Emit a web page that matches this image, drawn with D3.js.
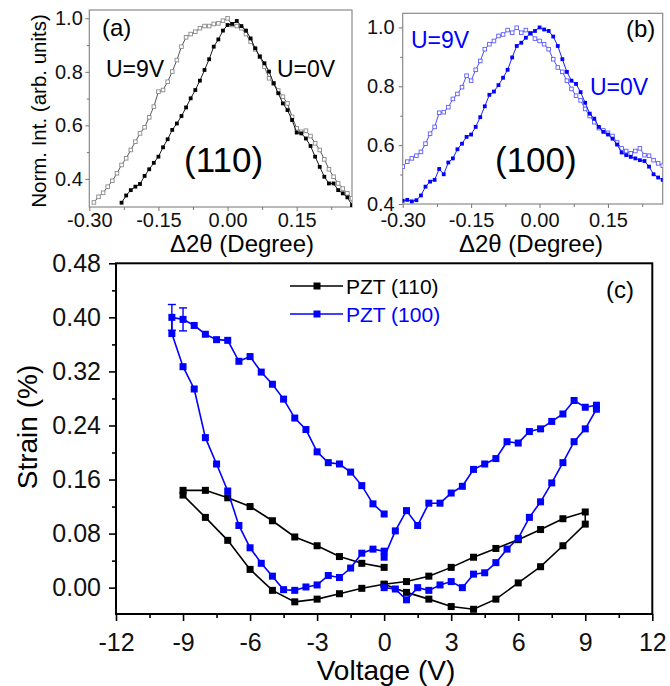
<!DOCTYPE html>
<html>
<head>
<meta charset="utf-8">
<script src="https://cdn.jsdelivr.net/npm/d3@7"></script>
<style>
    body { margin: 0; background: #fff; }
    svg { font-family: "Liberation Sans", Arial, sans-serif; }
</style>
</head>
<body>
<div id="chart"></div>
<script>
// ---- panel (a): (110) peak, [delta 2theta, normalized intensity]
const peak110_0V = [
    [-0.23, 0.311], [-0.22, 0.338], [-0.21, 0.358], [-0.20, 0.371], [-0.19, 0.381], [-0.18, 0.411],
    [-0.17, 0.436], [-0.16, 0.460], [-0.15, 0.483], [-0.14, 0.518], [-0.13, 0.548], [-0.12, 0.583],
    [-0.11, 0.607], [-0.10, 0.635], [-0.09, 0.667], [-0.08, 0.701], [-0.07, 0.732], [-0.06, 0.767],
    [-0.05, 0.807], [-0.04, 0.847], [-0.03, 0.894], [-0.02, 0.921], [-0.01, 0.954], [0.00, 0.975],
    [0.01, 0.979], [0.02, 0.990], [0.03, 0.971], [0.04, 0.954], [0.05, 0.925], [0.06, 0.888],
    [0.07, 0.857], [0.08, 0.832], [0.09, 0.801], [0.10, 0.757], [0.11, 0.720], [0.12, 0.682],
    [0.13, 0.657], [0.14, 0.620], [0.15, 0.573], [0.16, 0.570], [0.17, 0.551], [0.18, 0.523],
    [0.19, 0.483], [0.20, 0.445], [0.21, 0.408], [0.22, 0.383], [0.23, 0.383], [0.24, 0.358],
    [0.25, 0.346], [0.26, 0.331], [0.27, 0.302]
]
const peak110_9V = [
    [-0.29, 0.312], [-0.28, 0.333], [-0.27, 0.348], [-0.26, 0.371], [-0.25, 0.393], [-0.24, 0.421],
    [-0.23, 0.452], [-0.22, 0.477], [-0.21, 0.508], [-0.20, 0.539], [-0.19, 0.570], [-0.18, 0.593],
    [-0.17, 0.630], [-0.16, 0.670], [-0.15, 0.726], [-0.14, 0.732], [-0.13, 0.763], [-0.12, 0.801],
    [-0.11, 0.844], [-0.10, 0.894], [-0.09, 0.929], [-0.08, 0.941], [-0.07, 0.950], [-0.06, 0.963],
    [-0.05, 0.971], [-0.04, 0.971], [-0.03, 0.979], [-0.02, 0.981], [-0.01, 0.991], [0.00, 1.000],
    [0.01, 0.975], [0.02, 0.971], [0.03, 0.963], [0.04, 0.941], [0.05, 0.913], [0.06, 0.884],
    [0.07, 0.857], [0.08, 0.819], [0.09, 0.776], [0.10, 0.757], [0.11, 0.730], [0.12, 0.707],
    [0.13, 0.682], [0.14, 0.632], [0.15, 0.589], [0.16, 0.576], [0.17, 0.580], [0.18, 0.560],
    [0.19, 0.533], [0.20, 0.508], [0.21, 0.473], [0.22, 0.436], [0.23, 0.408], [0.24, 0.383],
    [0.25, 0.364], [0.26, 0.346], [0.27, 0.327]
]

// ---- panel (b): (100) peak
const peak100_0V = [
    [-0.30, 0.411], [-0.29, 0.414], [-0.28, 0.409], [-0.27, 0.413], [-0.26, 0.429], [-0.25, 0.459],
    [-0.24, 0.476], [-0.23, 0.482], [-0.22, 0.519], [-0.21, 0.501], [-0.20, 0.541], [-0.19, 0.555],
    [-0.18, 0.586], [-0.17, 0.605], [-0.16, 0.628], [-0.15, 0.636], [-0.14, 0.662], [-0.13, 0.695],
    [-0.12, 0.732], [-0.11, 0.771], [-0.10, 0.782], [-0.09, 0.804], [-0.08, 0.829], [-0.07, 0.856],
    [-0.06, 0.898], [-0.05, 0.937], [-0.04, 0.948], [-0.03, 0.965], [-0.02, 0.980], [-0.01, 0.988],
    [0.00, 1.000], [0.01, 0.993], [0.02, 0.988], [0.03, 0.969], [0.04, 0.937], [0.05, 0.892],
    [0.06, 0.849], [0.07, 0.819], [0.08, 0.808], [0.09, 0.780], [0.10, 0.744], [0.11, 0.707],
    [0.12, 0.690], [0.13, 0.662], [0.14, 0.645], [0.15, 0.636], [0.16, 0.622], [0.17, 0.602],
    [0.18, 0.575], [0.19, 0.566], [0.20, 0.560], [0.21, 0.555], [0.22, 0.549], [0.23, 0.546],
    [0.24, 0.527], [0.25, 0.501], [0.26, 0.490], [0.27, 0.482]
]
const peak100_9V = [
    [-0.30, 0.527], [-0.29, 0.544], [-0.28, 0.555], [-0.27, 0.564], [-0.26, 0.577], [-0.25, 0.605],
    [-0.24, 0.639], [-0.23, 0.662], [-0.22, 0.710], [-0.21, 0.712], [-0.20, 0.729], [-0.19, 0.757],
    [-0.18, 0.774], [-0.17, 0.797], [-0.16, 0.836], [-0.15, 0.819], [-0.14, 0.856], [-0.13, 0.886],
    [-0.12, 0.926], [-0.11, 0.943], [-0.10, 0.954], [-0.09, 0.971], [-0.08, 0.976], [-0.07, 0.991],
    [-0.06, 0.982], [-0.05, 0.999], [-0.04, 0.982], [-0.03, 0.991], [-0.02, 0.980], [-0.01, 0.962],
    [0.00, 0.954], [0.01, 0.943], [0.02, 0.926], [0.03, 0.892], [0.04, 0.864], [0.05, 0.849],
    [0.06, 0.819], [0.07, 0.791], [0.08, 0.768], [0.09, 0.752], [0.10, 0.723], [0.11, 0.699],
    [0.12, 0.678], [0.13, 0.658], [0.14, 0.650], [0.15, 0.642], [0.16, 0.631], [0.17, 0.609],
    [0.18, 0.589], [0.19, 0.580], [0.20, 0.572], [0.21, 0.580], [0.22, 0.589], [0.23, 0.566],
    [0.24, 0.564], [0.25, 0.549], [0.26, 0.538], [0.27, 0.530]
]

const peakXTicks = [-0.30, -0.15, 0.00, 0.15]
const peakXLabels = ["-0.30", "-0.15", "0.00", "0.15"]
const peakXMinor = [-0.225, -0.075, 0.075, 0.225]
const peakYTicks = [0.4, 0.6, 0.8, 1.0]
const peakYLabels = ["0.4", "0.6", "0.8", "1.0"]
const peakYMinor = [0.5, 0.7, 0.9]

// ---- panel (c): strain loops, in measuring order
const voltage110 = [0, -1, -2, -3, -4, -5, -6, -7, -8, -9, -9, -8, -7, -6, -5, -4, -3, -2, -1, 0,
    1, 2, 3, 4, 5, 6, 7, 8, 9, 9, 8, 7, 6, 5, 4, 3, 2, 1, 0]
const strain110 = [0.030, 0.036, 0.046, 0.062, 0.075, 0.099, 0.120, 0.133, 0.144, 0.144,
    0.137, 0.104, 0.070, 0.027, -0.004, -0.021, -0.017, -0.009, -0.001, 0.005,
    0.009, 0.017, 0.030, 0.045, 0.058, 0.071, 0.086, 0.102, 0.112,
    0.094, 0.062, 0.031, 0.007, -0.017, -0.032, -0.028, -0.017, -0.007, 0.005]

const voltage100 = [0, 0.5, 1, 1.5, 2, 2.5, 3, 3.5, 4, 4.5, 5, 5.5, 6, 6.5, 7, 7.5, 8, 8.5, 9, 9.5,
    9.5, 9, 8.5, 8, 7.5, 7, 6.5, 6, 5.5, 5, 4.5, 4, 3.5, 3, 2.5, 2, 1.5, 1, 0.5, 0,
    0, -0.5, -1, -1.5, -2, -2.5, -3, -3.5, -4, -4.5, -5, -5.5, -6, -6.5, -7, -7.5, -8, -8.5, -9, -9.5,
    -9.5, -9, -8.5, -8, -7.5, -7, -6.5, -6, -5.5, -5, -4.5, -4, -3.5, -3, -2.5, -2, -1.5, -1, -0.5, 0]
const strain100 = [0.000, -0.002, -0.018, 0.000, -0.004, 0.004, 0.009, 0.000, 0.020, 0.022,
    0.037, 0.057, 0.073, 0.104, 0.127, 0.155, 0.185, 0.216, 0.235, 0.264,
    0.270, 0.267, 0.277, 0.257, 0.246, 0.235, 0.231, 0.214, 0.216, 0.191,
    0.183, 0.175, 0.150, 0.140, 0.125, 0.125, 0.092, 0.114, 0.084, 0.045,
    0.054, 0.057, 0.051, 0.029, 0.015, 0.018, 0.004, 0.001, -0.004, -0.003,
    0.017, 0.036, 0.059, 0.092, 0.143, 0.183, 0.222, 0.294, 0.327, 0.376,
    0.400, 0.397, 0.388, 0.375, 0.367, 0.366, 0.335, 0.342, 0.319, 0.301,
    0.279, 0.251, 0.234, 0.201, 0.185, 0.183, 0.171, 0.151, 0.124, 0.109]

// error bars on the first points of the (100) loop
const errVoltage = [-9.5, -9]
const errStrain = [0.400, 0.397]
const errSize = [0.019, 0.017]

const voltTicks = [-12, -9, -6, -3, 0, 3, 6, 9, 12]
const voltLabels = ["-12", "-9", "-6", "-3", "0", "3", "6", "9", "12"]
const voltMinor = [-10.5, -7.5, -4.5, -1.5, 1.5, 4.5, 7.5, 10.5]
const strainTicks = [0.00, 0.08, 0.16, 0.24, 0.32, 0.40, 0.48]
const strainLabels = ["0.00", "0.08", "0.16", "0.24", "0.32", "0.40", "0.48"]
const strainMinor = [0.04, 0.12, 0.20, 0.28, 0.36, 0.44]

const legendLabels = ["PZT (110)", "PZT (100)"]
const BLUE = "#0000ff"

const width = 670, height = 686
const svg = d3.select("#chart")
    .append("svg")
    .attr("width", width)
    .attr("height", height)

// small XRD peak panels (a) and (b)
let drawPeakPanel = function(p) {
    const x = d3.scaleLinear().domain([-0.30, 0.27]).range([p.left, p.right])
    const y = d3.scaleLinear().domain(p.yDomain).range([p.bottom, p.top])
    const g = svg.append("g")

    g.append("rect")
        .attr("x", p.left).attr("y", p.top)
        .attr("width", p.right - p.left).attr("height", p.bottom - p.top)
        .attr("fill", "none").attr("stroke", "#8a8a8a").attr("stroke-width", 1.2)

    const xAxis = d3.axisBottom(x).tickValues(peakXTicks)
        .tickFormat((d, i) => peakXLabels[i]).tickSize(4).tickPadding(p.xPad)
    const xMinor = d3.axisBottom(x).tickValues(peakXMinor).tickFormat("").tickSize(3)
    const yAxis = d3.axisLeft(y).tickValues(peakYTicks)
        .tickFormat((d, i) => peakYLabels[i]).tickSize(4).tickPadding(p.yPad)
    const yMinor = d3.axisLeft(y).tickValues(peakYMinor).tickFormat("").tickSize(2.5)

    g.append("g").attr("transform", `translate(0,${p.bottom})`).call(xAxis)
    g.append("g").attr("transform", `translate(0,${p.bottom})`).call(xMinor)
    g.append("g").attr("transform", `translate(${p.left},0)`).call(yAxis)
    g.append("g").attr("transform", `translate(${p.left},0)`).call(yMinor)
    g.selectAll(".domain").remove()
    g.selectAll(".tick line").attr("stroke", "#777")
    g.selectAll(".tick text").attr("font-size", 20).attr("fill", "#111")
        .attr("font-family", "Liberation Sans, Arial, sans-serif")

    const clipId = "clip-" + p.name
    g.append("clipPath").attr("id", clipId)
        .append("rect")
        .attr("x", p.left).attr("y", p.top)
        .attr("width", p.right - p.left).attr("height", p.bottom - p.top)
    const plot = g.append("g").attr("clip-path", `url(#${clipId})`)

    const line = d3.line()
        .x(d => x(d[0]))
        .y(d => y(d[1]))

    // U=9V, open squares
    plot.append("path").datum(p.open)
        .attr("d", line).attr("fill", "none")
        .attr("stroke", p.openLine).attr("stroke-width", 0.9)
    plot.selectAll(".open")
        .data(p.open)
        .enter().append("rect")
        .attr("x", d => x(d[0]) - 1.8)
        .attr("y", d => y(d[1]) - 1.8)
        .attr("width", 3.6).attr("height", 3.6)
        .attr("fill", "#fff").attr("stroke", p.openColor).attr("stroke-width", 0.9)

    // U=0V, filled squares
    plot.append("path").datum(p.filled)
        .attr("d", line).attr("fill", "none")
        .attr("stroke", p.color).attr("stroke-width", 0.9)
    plot.selectAll(".filled")
        .data(p.filled)
        .enter().append("rect")
        .attr("x", d => x(d[0]) - 1.9)
        .attr("y", d => y(d[1]) - 1.9)
        .attr("width", 3.8).attr("height", 3.8)
        .attr("fill", p.color)

    g.append("text")
        .attr("x", p.titleX).attr("y", 252)
        .attr("text-anchor", "middle")
        .attr("font-size", 24)
        .text("\u03942\u03b8 (Degree)")

    return g
}

const gA = drawPeakPanel({
    name: "a", left: 89.3, right: 352, top: 10, bottom: 207,
    yDomain: [0.295, 1.031], xPad: 2, yPad: 2.5,
    filled: peak110_0V, open: peak110_9V,
    color: "#000", openColor: "#8a8a8a", openLine: "#444",
    titleX: 242
})
gA.append("text").attr("x", 102).attr("y", 36).attr("font-size", 24).text("(a)")
gA.append("text").attr("x", 106).attr("y", 77).attr("font-size", 23).text("U=9V")
gA.append("text").attr("x", 277).attr("y", 77).attr("font-size", 23).text("U=0V")
gA.append("text").attr("x", 184).attr("y", 172).attr("font-size", 35).text("(110)")

svg.append("text")
    .attr("transform", "translate(45.5,111) rotate(-90)")
    .attr("text-anchor", "middle")
    .attr("font-size", 20.5)
    .text("Norm. Int. (arb. units)")

const gB = drawPeakPanel({
    name: "b", left: 402.7, right: 662.7, top: 13.3, bottom: 204,
    yDomain: [0.4, 1.048], xPad: 4.5, yPad: 4,
    filled: peak100_0V, open: peak100_9V,
    color: BLUE, openColor: "#5c5cff", openLine: "#3a3aff",
    titleX: 531
})
gB.append("text").attr("x", 626).attr("y", 37).attr("font-size", 24).text("(b)")
gB.append("text").attr("x", 411).attr("y", 48).attr("font-size", 23).attr("fill", BLUE).text("U=9V")
gB.append("text").attr("x", 590).attr("y", 95).attr("font-size", 23).attr("fill", BLUE).text("U=0V")
gB.append("text").attr("x", 495).attr("y", 172).attr("font-size", 35).text("(100)")

// ---- panel (c)
const cMargin = { top: 263.3, right: 652.3, bottom: 614, left: 116 }
const xV = d3.scaleLinear().domain([-12, 12]).range([cMargin.left, cMargin.right])
const yS = d3.scaleLinear().domain([-0.039, 0.48]).range([cMargin.bottom, cMargin.top])
const gC = svg.append("g")

gC.append("rect")
    .attr("x", cMargin.left).attr("y", cMargin.top)
    .attr("width", cMargin.right - cMargin.left)
    .attr("height", cMargin.bottom - cMargin.top)
    .attr("fill", "none").attr("stroke", "#000").attr("stroke-width", 2)

const vAxis = d3.axisBottom(xV).tickValues(voltTicks)
    .tickFormat((d, i) => voltLabels[i]).tickSize(7).tickPadding(12)
const vMinor = d3.axisBottom(xV).tickValues(voltMinor).tickFormat("").tickSize(4)
const sAxis = d3.axisLeft(yS).tickValues(strainTicks)
    .tickFormat((d, i) => strainLabels[i]).tickSize(7).tickPadding(8)
const sMinor = d3.axisLeft(yS).tickValues(strainMinor).tickFormat("").tickSize(4)

gC.append("g").attr("transform", `translate(0,${cMargin.bottom})`).call(vAxis)
gC.append("g").attr("transform", `translate(0,${cMargin.bottom})`).call(vMinor)
gC.append("g").attr("transform", `translate(${cMargin.left},0)`).call(sAxis)
gC.append("g").attr("transform", `translate(${cMargin.left},0)`).call(sMinor)
gC.selectAll(".domain").remove()
gC.selectAll(".tick line").attr("stroke", "#000").attr("stroke-width", 1.6)
gC.selectAll(".tick text").attr("font-size", 25).attr("fill", "#111")
    .attr("font-family", "Liberation Sans, Arial, sans-serif")

gC.append("text")
    .attr("x", 386).attr("y", 680)
    .attr("text-anchor", "middle")
    .attr("font-size", 28)
    .text("Voltage (V)")
gC.append("text")
    .attr("transform", "translate(37,427) rotate(-90)")
    .attr("text-anchor", "middle")
    .attr("font-size", 28)
    .text("Strain (%)")
gC.append("text").attr("x", 606).attr("y", 298).attr("font-size", 24).text("(c)")

const loops = [
    { v: voltage110, s: strain110, color: "#000" },
    { v: voltage100, s: strain100, color: BLUE }
]

const loopLine = d3.line()
    .x(d => xV(d[0]))
    .y(d => yS(d[1]))

// Origin-style error bars
errVoltage.forEach((v, i) => {
    const cx = xV(v)
    const y1 = yS(errStrain[i] + errSize[i]), y2 = yS(errStrain[i] - errSize[i])
    gC.append("line").attr("x1", cx).attr("x2", cx).attr("y1", y1).attr("y2", y2)
        .attr("stroke", BLUE).attr("stroke-width", 1.4)
    gC.append("line").attr("x1", cx - 4).attr("x2", cx + 4).attr("y1", y1).attr("y2", y1)
        .attr("stroke", BLUE).attr("stroke-width", 1.4)
    gC.append("line").attr("x1", cx - 4).attr("x2", cx + 4).attr("y1", y2).attr("y2", y2)
        .attr("stroke", BLUE).attr("stroke-width", 1.4)
})

loops.forEach(loop => {
    const pts = loop.v.map((v, i) => [v, loop.s[i]])
    gC.append("path").datum(pts)
        .attr("d", loopLine).attr("fill", "none")
        .attr("stroke", loop.color).attr("stroke-width", 1.6)
    gC.selectAll(null)
        .data(pts)
        .enter().append("rect")
        .attr("x", d => xV(d[0]) - 3.5)
        .attr("y", d => yS(d[1]) - 3.5)
        .attr("width", 7).attr("height", 7)
        .attr("fill", loop.color)
})

// legend
const legend = gC.append("g")
loops.forEach((loop, i) => {
    const ly = 286 + i * 28
    legend.append("line").attr("x1", 290).attr("x2", 343).attr("y1", ly).attr("y2", ly)
        .attr("stroke", loop.color).attr("stroke-width", 1.6)
    legend.append("rect").attr("x", 313.5).attr("y", ly - 3.5).attr("width", 7).attr("height", 7)
        .attr("fill", loop.color)
    legend.append("text").attr("x", 346).attr("y", ly + 8)
        .attr("font-size", 21).attr("fill", loop.color)
        .text(legendLabels[i])
})
</script>
</body>
</html>
